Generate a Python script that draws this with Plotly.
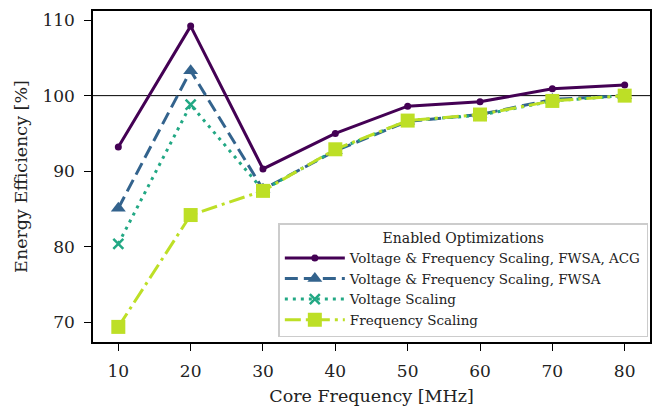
import plotly.graph_objects as go

freq = [10, 20, 30, 40, 50, 60, 70, 80]
vf_fwsa_acg = [93.2, 109.2, 90.3, 95.0, 98.6, 99.2, 100.9, 101.4]
vf_fwsa = [85.1, 103.3, 87.6, 92.7, 96.6, 97.5, 99.5, 100.0]
volt_scaling = [80.4, 98.8, 87.5, 92.8, 96.7, 97.4, 99.3, 100.0]
freq_scaling = [69.4, 84.2, 87.4, 92.9, 96.7, 97.5, 99.3, 100.0]
names = ["Voltage &amp; Frequency Scaling, FWSA, ACG",
         "Voltage &amp; Frequency Scaling, FWSA",
         "Voltage Scaling",
         "Frequency Scaling"]
xticks = [10, 20, 30, 40, 50, 60, 70, 80]
yticks = [70, 80, 90, 100, 110]

FONT = "DejaVu Serif"
fig = go.Figure()
fig.add_trace(go.Scatter(x=freq, y=vf_fwsa_acg, name=names[0], mode="lines+markers",
                         line=dict(color="#440154", width=3),
                         marker=dict(symbol="circle", size=7, color="#440154")))
fig.add_trace(go.Scatter(x=freq, y=vf_fwsa, name=names[1], mode="lines+markers",
                         line=dict(color="#33638d", width=3, dash="13px,6px"),
                         marker=dict(symbol="triangle-up", size=13, color="#33638d")))
fig.add_trace(go.Scatter(x=freq, y=volt_scaling, name=names[2], mode="lines+markers",
                         line=dict(color="#22a884", width=3, dash="3px,5px"),
                         marker=dict(symbol="x-thin", size=10, color="#22a884",
                                     line=dict(width=2.5, color="#22a884"))))
fig.add_trace(go.Scatter(x=freq, y=freq_scaling, name=names[3], mode="lines+markers",
                         line=dict(color="#bddf26", width=3, dash="16px,5px,3px,5px"),
                         marker=dict(symbol="square", size=14, color="#bddf26")))

fig.add_shape(type="line", xref="paper", yref="y", x0=0, x1=1, y0=100, y1=100,
              line=dict(color="black", width=1), layer="below")

fig.update_layout(
    width=654, height=401,
    margin=dict(l=85, r=12, t=1, b=67),
    plot_bgcolor="white", paper_bgcolor="white",
    font=dict(family=FONT, size=13, color="#222"),
    showlegend=True,
    legend=dict(x=0.997, xanchor="right", y=0.015, yanchor="bottom",
                bgcolor="rgba(255,255,255,0.85)", bordercolor="#cccccc", borderwidth=1.5,
                font=dict(family=FONT, size=13.5, color="#222"),
                title=dict(text="Enabled Optimizations", side="top center",
                           font=dict(family=FONT, size=14, color="#222")),
                tracegroupgap=0, itemwidth=60),
    xaxis=dict(range=[6.5, 83.5], tickvals=xticks, ticks="outside", ticklen=7, tickwidth=1.3,
               tickcolor="black", ticklabelstandoff=6,
               showline=True, linecolor="black", linewidth=1.5, mirror=True,
               showgrid=False, zeroline=False,
               title=dict(text="Core Frequency [MHz]", font=dict(family=FONT, size=17.5), standoff=10),
               tickfont=dict(family=FONT, size=17)),
    yaxis=dict(range=[67.4, 111.2], tickvals=yticks, ticks="outside", ticklen=7, tickwidth=1.3,
               tickcolor="black", ticklabelstandoff=6,
               showline=True, linecolor="black", linewidth=1.5, mirror=True,
               showgrid=False, zeroline=False,
               title=dict(text="Energy Efficiency [%]", font=dict(family=FONT, size=17.5), standoff=10),
               tickfont=dict(family=FONT, size=17)),
)
fig.write_html("out.html")
